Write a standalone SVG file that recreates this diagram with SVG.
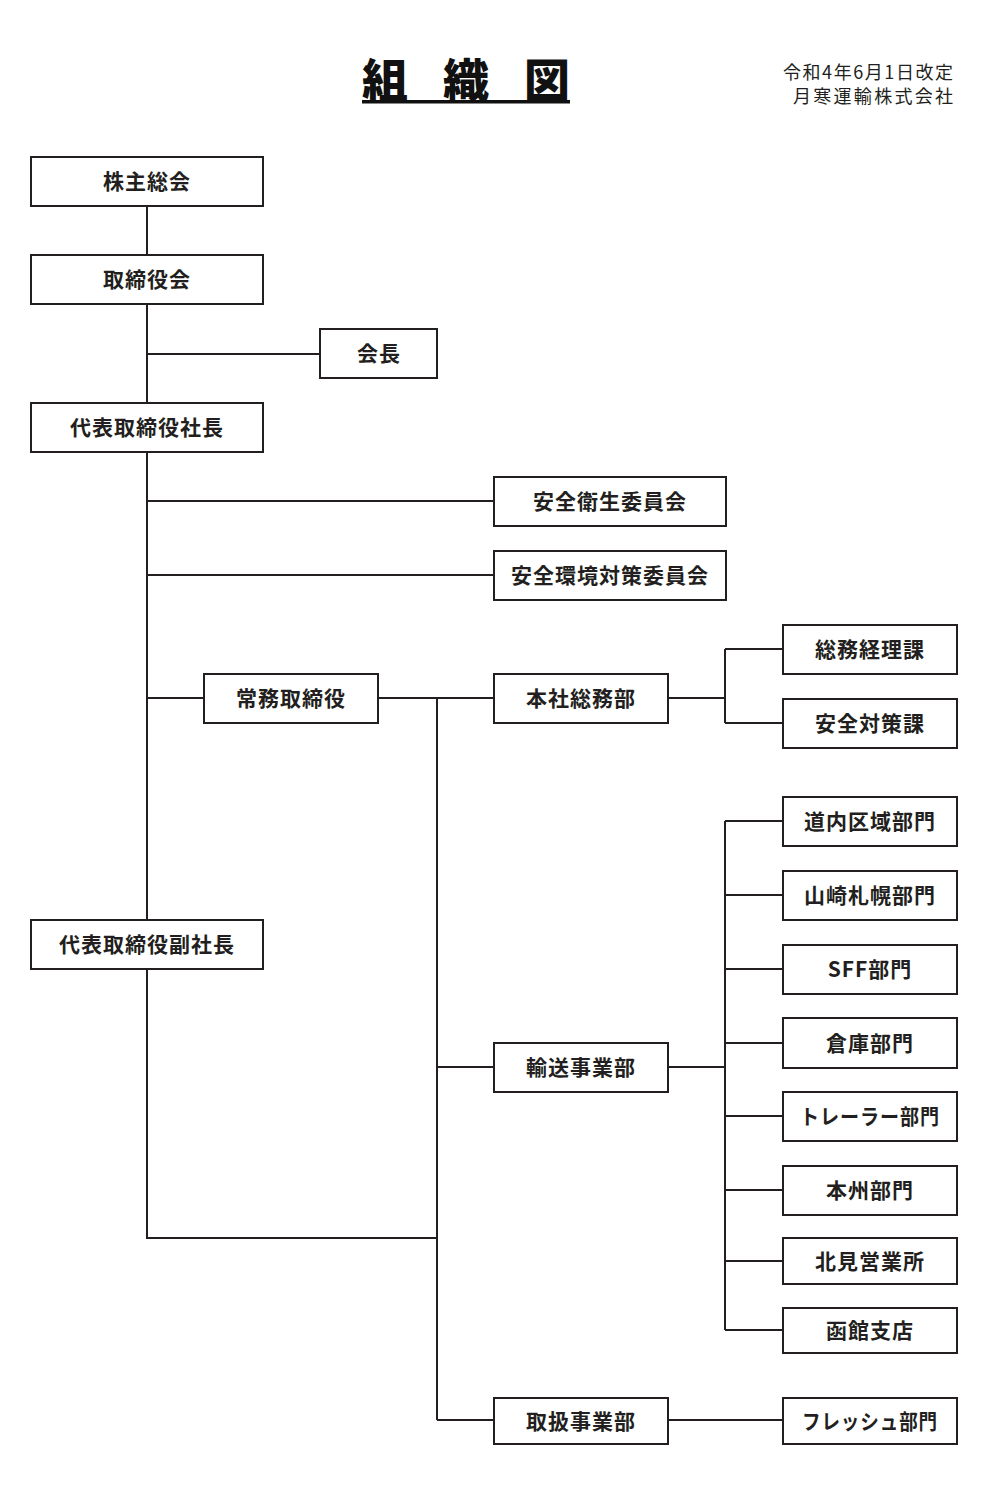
<svg xmlns="http://www.w3.org/2000/svg" width="1000" height="1500" viewBox="0 0 1000 1500">
<style>
.box{fill:#fff;stroke:#231f20;stroke-width:2}
.lbl{font-family:"Noto Sans CJK JP","Noto Sans CJK SC",sans-serif;font-weight:bold;font-size:21px;letter-spacing:1px;fill:#231f20;text-anchor:middle}
.ln{fill:none;stroke:#231f20;stroke-width:2}
.hdr{font-family:"Noto Sans CJK JP",sans-serif;font-size:18px;fill:#231f20;text-anchor:end}
.title{font-family:"Noto Sans CJK JP",sans-serif;font-weight:900;font-size:46px;fill:#111;text-anchor:middle}
</style>
<rect width="1000" height="1500" fill="#fff"/>
<g id="title">
<text class="title" x="385" y="97">組</text>
<text class="title" x="466" y="97">織</text>
<text class="title" x="547" y="97">図</text>
<rect x="362" y="100" width="208" height="3.5" fill="#111"/>
</g>
<g id="header">
<text class="hdr" x="953" y="79" textLength="170" lengthAdjust="spacing">令和4年6月1日改定</text>
<text class="hdr" x="953" y="103" textLength="160" lengthAdjust="spacing">月寒運輸株式会社</text>
</g>
<g id="connectors">
<path class="ln" d="M147 206V255M147 304V920M147 354H320M147 501H494M147 575H494M147 698H204"/>
<path class="ln" d="M378 698H494M437 698V1420M437 1067H494M437 1420H494M147 969V1238H437"/>
<path class="ln" d="M668 698H725M725 649V723M725 649H783M725 723H783"/>
<path class="ln" d="M668 1067H725M725 821V1330M725 821H783M725 895H783M725 969H783M725 1043H783M725 1116H783M725 1190H783M725 1261H783M725 1330H783"/>
<path class="ln" d="M668 1420H783"/>
</g>
<g id="n1"><rect class="box" x="31" y="157" width="232" height="49"/><text class="lbl" x="147" y="189">株主総会</text></g>
<g id="n2"><rect class="box" x="31" y="255" width="232" height="49"/><text class="lbl" x="147" y="287">取締役会</text></g>
<g id="n3"><rect class="box" x="320" y="329" width="117" height="49"/><text class="lbl" x="379" y="361">会長</text></g>
<g id="n4"><rect class="box" x="31" y="403" width="232" height="49"/><text class="lbl" x="147" y="435">代表取締役社長</text></g>
<g id="n5"><rect class="box" x="494" y="477" width="232" height="49"/><text class="lbl" x="610" y="509">安全衛生委員会</text></g>
<g id="n6"><rect class="box" x="494" y="551" width="232" height="49"/><text class="lbl" x="610" y="583">安全環境対策委員会</text></g>
<g id="n7"><rect class="box" x="204" y="674" width="174" height="49"/><text class="lbl" x="291" y="706">常務取締役</text></g>
<g id="n8"><rect class="box" x="494" y="674" width="174" height="49"/><text class="lbl" x="581" y="706">本社総務部</text></g>
<g id="n9"><rect class="box" x="783" y="625" width="174" height="49"/><text class="lbl" x="870" y="657">総務経理課</text></g>
<g id="n10"><rect class="box" x="783" y="699" width="174" height="49"/><text class="lbl" x="870" y="731">安全対策課</text></g>
<g id="n11"><rect class="box" x="31" y="920" width="232" height="49"/><text class="lbl" x="147" y="952">代表取締役副社長</text></g>
<g id="n12"><rect class="box" x="494" y="1043" width="174" height="49"/><text class="lbl" x="581" y="1075">輸送事業部</text></g>
<g id="n13"><rect class="box" x="783" y="797" width="174" height="49"/><text class="lbl" x="870" y="829">道内区域部門</text></g>
<g id="n14"><rect class="box" x="783" y="871" width="174" height="49"/><text class="lbl" x="870" y="903">山崎札幌部門</text></g>
<g id="n15"><rect class="box" x="783" y="945" width="174" height="49"/><text class="lbl" x="870" y="977">SFF部門</text></g>
<g id="n16"><rect class="box" x="783" y="1018" width="174" height="50"/><text class="lbl" x="870" y="1050.5">倉庫部門</text></g>
<g id="n17"><rect class="box" x="783" y="1092" width="174" height="49"/><text class="lbl" x="870" y="1124" textLength="140" lengthAdjust="spacingAndGlyphs">トレーラー部門</text></g>
<g id="n18"><rect class="box" x="783" y="1166" width="174" height="49"/><text class="lbl" x="870" y="1198">本州部門</text></g>
<g id="n19"><rect class="box" x="783" y="1238" width="174" height="46"/><text class="lbl" x="870" y="1268.5">北見営業所</text></g>
<g id="n20"><rect class="box" x="783" y="1308" width="174" height="45"/><text class="lbl" x="870" y="1338">函館支店</text></g>
<g id="n21"><rect class="box" x="494" y="1398" width="174" height="46"/><text class="lbl" x="581" y="1428.5">取扱事業部</text></g>
<g id="n22"><rect class="box" x="783" y="1398" width="174" height="46"/><text class="lbl" x="870" y="1428.5" textLength="136" lengthAdjust="spacingAndGlyphs">フレッシュ部門</text></g>
</svg>
